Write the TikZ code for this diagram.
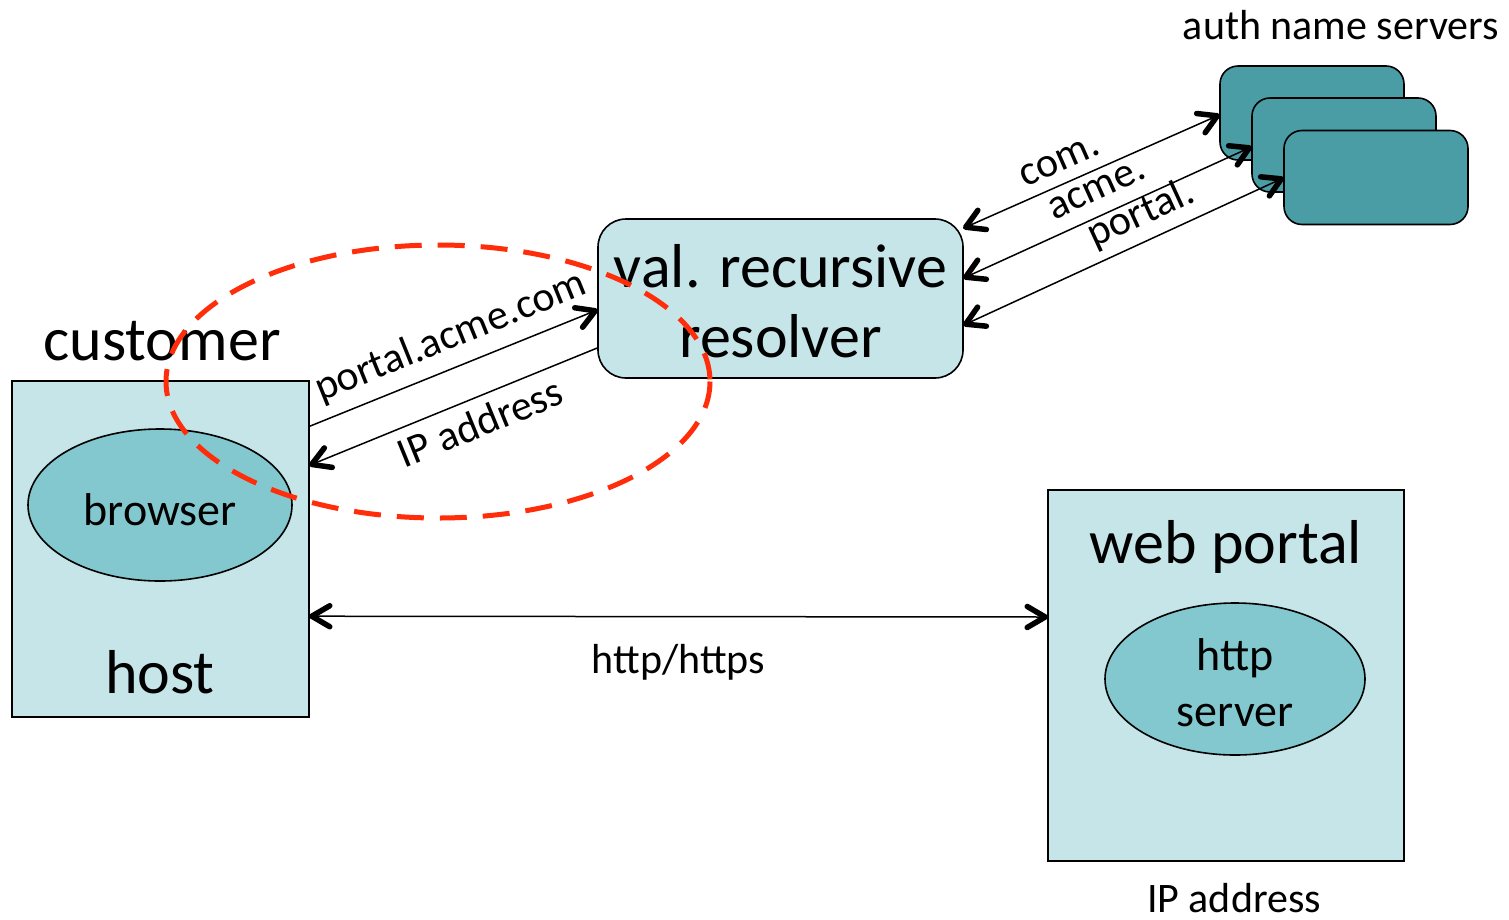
\documentclass[tikz,border=0pt]{standalone}
\usepackage{fontspec}
\setmainfont{Carlito}
\usetikzlibrary{calc,shapes.geometric,decorations.markings}
\definecolor{boxfill}{RGB}{197,229,232}
\definecolor{ovalfill}{RGB}{130,200,206}
\definecolor{srvfill}{RGB}{74,157,165}
\definecolor{zonered}{RGB}{255,45,10}
\newcommand\fsBig{\fontsize{62}{70}\selectfont}
\newcommand\fsMid{\fontsize{46}{56}\selectfont}
\newcommand\fsSmall{\fontsize{42}{50}\selectfont}
\begin{document}
\begin{tikzpicture}[x=1pt,y=-1pt,
  box/.style={draw=black,line width=1.6pt,fill=boxfill,inner sep=0pt},
  oval/.style={ellipse,draw=black,line width=1.6pt,fill=ovalfill,inner sep=0pt},
  srv/.style={draw=black,line width=1.6pt,fill=srvfill,rounded corners=18pt,
    minimum width=184pt,minimum height=94pt,inner sep=0pt},
  link/.style={line width=1.5pt},
  barbstroke/.style={line width=5.5pt,line cap=round,line join=round},
  % heavy open barbs at the ends of a connector
  headend/.style={postaction={decorate,decoration={markings,
    mark=at position 1 with {\draw[barbstroke] (-20pt,10.5pt) -- (-2pt,0pt) -- (-20pt,-10.5pt);}}}},
  headstart/.style={postaction={decorate,decoration={markings,
    mark=at position 0 with {\draw[barbstroke] (20pt,10.5pt) -- (2pt,0pt) -- (20pt,-10.5pt);}}}},
  oneway/.style={link,headend},
  twoway/.style={link,headstart,headend},
  lbl/.style={font=\fsSmall,inner sep=2pt},
]
\useasboundingbox (0,0) rectangle (1509,919);
\fill[white] (0,0) rectangle (1509,919);

% customer host with its browser
\node[box,minimum width=297pt,minimum height=336pt] (host) at (160.5,549) {};
\node[oval,minimum width=264pt,minimum height=152pt,font=\fsMid] (browser) at (160,505)
  {\raisebox{-5pt}[\height][\depth]{browser}};
\node[font=\fsBig] (customer) at (162,341) {customer};
\node[font=\fsBig] (hostlbl) at (160,672) {host};

% validating recursive resolver
\node[box,rounded corners=28pt,minimum width=365pt,minimum height=159pt] (res) at (780.5,298.5) {};
\node[font=\fsBig,align=center] (restxt) at ([yshift=-3pt]res.center) {val. recursive\\resolver};

% stack of authoritative name servers
\node[srv] (s1) at (1312,113) {};
\node[srv] (s2) at (1344,145) {};
\node[srv] (s3) at (1376,177.5) {};
\node[font=\fsSmall] (authlbl) at (1341,25) {auth name servers};

% web portal with its http server
\node[box,minimum width=356pt,minimum height=371pt] (web) at (1226,675.5) {};
\node[font=\fsBig] (weblbl) at (1226,547) {web portal};
\node[oval,minimum width=260pt,minimum height=152pt] (httpd) at (1235,679) {};
\node[font=\fsMid,align=center] (httptxt) at ([yshift=-4pt]httpd.center) {http\\server};
\node[font=\fsSmall] (iplbl) at (1234,898) {IP address};

% lookups between the stub and the resolver
\draw[oneway] ([yshift=-46pt]host.north east) --
  node[lbl,sloped,above=9pt,pos=0.53] {portal.acme.com} ([yshift=-11.5pt]res.west);
\draw[link,headstart] ([yshift=-85pt]host.north east) --
  node[lbl,sloped,below=7pt,pos=0.56] {IP address} ([yshift=-49.5pt]res.west);

% iterative queries to the name servers
\draw[twoway] ([yshift=70.5pt]res.east) --
  node[lbl,sloped,above=9pt,pos=0.41] {com.} ([yshift=-2pt]s1.west);
\draw[twoway] ([yshift=20.5pt]res.east) --
  node[lbl,sloped,above=12pt,pos=0.50] {acme.} ([yshift=-2pt]s2.west);
\draw[twoway] ([yshift=-26.5pt]res.east) --
  node[lbl,sloped,above=6pt,pos=0.59] {portal.} ([yshift=-0.5pt]s3.west);

% web traffic
\draw[twoway] ([yshift=-236pt]host.north east) --
  node[lbl,below=25pt] {http/https} ([yshift=58.5pt]web.west);

% the stub-to-resolver segment
\draw[zonered,line width=5pt,dash pattern=on 27pt off 16pt]
  (438,381.5) ellipse [x radius=272,y radius=136.5];
\end{tikzpicture}
\end{document}
